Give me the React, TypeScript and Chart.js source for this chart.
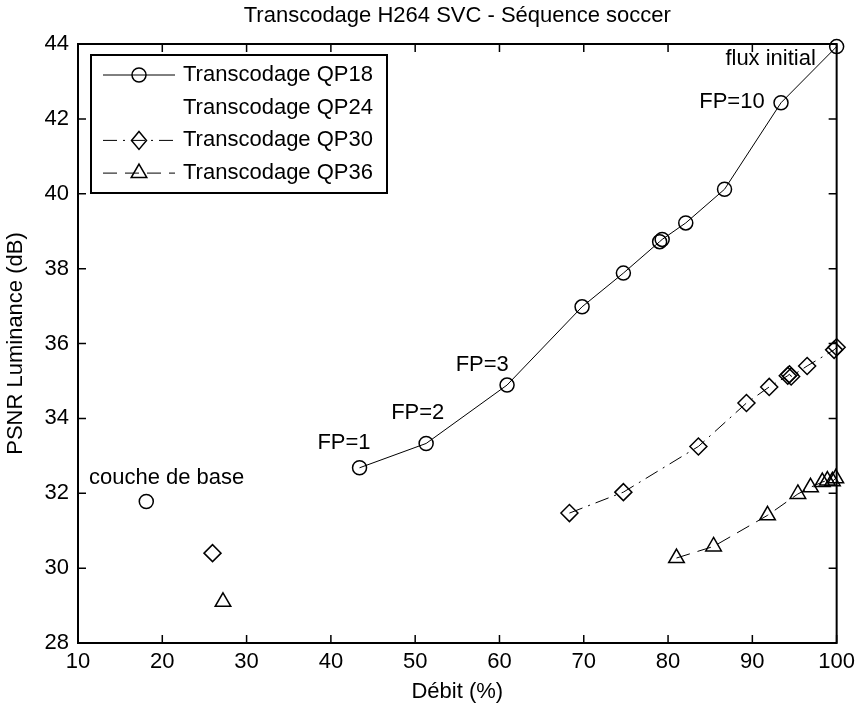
import React, { useEffect, useRef } from 'react';
import { Chart, registerables } from 'chart.js';

Chart.register(...registerables);

const FONT = "'Liberation Sans', Arial, Helvetica, sans-serif";
const FS = 22;

const TITLE = 'Transcodage H264 SVC - Séquence soccer';
const X_LABEL = 'Débit (%)';
const Y_LABEL = 'PSNR Luminance (dB)';
const SERIES_LABELS = ['Transcodage QP18', 'Transcodage QP24', 'Transcodage QP30', 'Transcodage QP36'];

// X axis 10..100 step 10, Y axis 28..44 step 2
const X_MIN = 10, X_MAX = 100, X_STEP = 10;
const Y_MIN = 28, Y_MAX = 44, Y_STEP = 2;

// QP18 transcoding curve (FP=1 ... flux initial)
const qp18Rate = [43.4, 51.3, 60.9, 69.8, 74.7, 79.0, 79.3, 82.1, 86.7, 93.4, 100];
const qp18Psnr = [32.68, 33.33, 34.89, 36.98, 37.88, 38.72, 38.78, 39.22, 40.12, 42.43, 43.93];
const qp18BaseRate = [18.1];
const qp18BasePsnr = [31.78];

// QP24 : no points drawn
const qp24Rate: number[] = [];
const qp24Psnr: number[] = [];

// QP30
const qp30Rate = [68.3, 74.7, 83.6, 89.3, 92.0, 94.2, 94.4, 94.6, 96.5, 99.7, 100];
const qp30Psnr = [31.47, 32.03, 33.25, 34.41, 34.84, 35.14, 35.18, 35.12, 35.4, 35.83, 35.9];
const qp30BaseRate = [25.96];
const qp30BasePsnr = [30.4];

// QP36
const qp36Rate = [81.0, 85.4, 91.8, 95.4, 96.9, 98.3, 98.9, 99.5, 99.9];
const qp36Psnr = [30.27, 30.58, 31.41, 31.98, 32.16, 32.3, 32.34, 32.32, 32.4];
const qp36BaseRate = [27.2];
const qp36BasePsnr = [29.1];

// Text annotations (data coordinates, left aligned, vertically centred)
const annotationTexts = ['couche de base', 'FP=1', 'FP=2', 'FP=3', 'FP=10', 'flux initial'];
const annotationX = [11.3, 38.4, 47.15, 54.8, 83.7, 86.8];
const annotationY = [32.41, 33.34, 34.14, 35.43, 42.45, 43.6];

const zip = (xs: number[], ys: number[]) => xs.map((x, i) => ({ x, y: ys[i] }));

const DASH_QP30 = [14, 6, 2, 6];
const DASH_QP36 = [14, 8];
const MARKER_LW = 1.5;

function drawMarker(ctx: CanvasRenderingContext2D, kind: string, x: number, y: number) {
  ctx.save();
  ctx.setLineDash([]);
  ctx.strokeStyle = '#000';
  ctx.lineWidth = MARKER_LW;
  ctx.beginPath();
  if (kind === 'circle') {
    ctx.arc(x, y, 7, 0, Math.PI * 2);
  } else if (kind === 'triangle') {
    const r = 9;
    ctx.moveTo(x, y - r);
    ctx.lineTo(x + r * Math.sin((2 * Math.PI) / 3), y - r * Math.cos((2 * Math.PI) / 3));
    ctx.lineTo(x + r * Math.sin((4 * Math.PI) / 3), y - r * Math.cos((4 * Math.PI) / 3));
    ctx.closePath();
  } else if (kind === 'diamond') {
    ctx.moveTo(x, y - 9);
    ctx.lineTo(x + 7.5, y);
    ctx.lineTo(x, y + 9);
    ctx.lineTo(x - 7.5, y);
    ctx.closePath();
  }
  ctx.stroke();
  ctx.restore();
}

export default function App() {
  const ref = useRef<HTMLCanvasElement | null>(null);

  useEffect(() => {
    document.body.style.margin = '0';
    const canvas = ref.current!;

    const boxPlugin = {
      id: 'matlabBox',
      afterDraw(chart: any) {
        const { ctx, chartArea: a, scales } = chart;
        ctx.save();
        ctx.strokeStyle = '#000';
        ctx.lineWidth = 2;
        ctx.setLineDash([]);
        ctx.strokeRect(a.left, a.top, a.right - a.left, a.bottom - a.top);
        const tl = 8;
        ctx.lineWidth = 1.5;
        ctx.beginPath();
        scales.x.ticks.forEach((t: any) => {
          const px = scales.x.getPixelForValue(t.value);
          ctx.moveTo(px, a.bottom);
          ctx.lineTo(px, a.bottom - tl);
          ctx.moveTo(px, a.top);
          ctx.lineTo(px, a.top + tl);
        });
        scales.y.ticks.forEach((t: any) => {
          const py = scales.y.getPixelForValue(t.value);
          ctx.moveTo(a.left, py);
          ctx.lineTo(a.left + tl, py);
          ctx.moveTo(a.right, py);
          ctx.lineTo(a.right - tl, py);
        });
        ctx.stroke();

        // annotations
        ctx.fillStyle = '#000';
        ctx.font = `${FS}px ${FONT}`;
        ctx.textAlign = 'left';
        ctx.textBaseline = 'middle';
        annotationTexts.forEach((txt, i) => {
          ctx.fillText(txt, scales.x.getPixelForValue(annotationX[i]), scales.y.getPixelForValue(annotationY[i]));
        });

        // legend
        const bx = 91, by = 55, bw = 296, bh = 138;
        ctx.fillStyle = '#fff';
        ctx.fillRect(bx, by, bw, bh);
        ctx.strokeStyle = '#000';
        ctx.lineWidth = 2;
        ctx.strokeRect(bx, by, bw, bh);
        const entries = [
          { marker: 'circle', dash: [] as number[], line: true },
          { marker: 'none', dash: [] as number[], line: false },
          { marker: 'diamond', dash: DASH_QP30, line: true },
          { marker: 'triangle', dash: DASH_QP36, line: true },
        ];
        entries.forEach((e, i) => {
          const cy = 75 + i * 32.7;
          if (e.line) {
            ctx.save();
            ctx.lineWidth = 1;
            ctx.setLineDash(e.dash);
            ctx.beginPath();
            ctx.moveTo(103, cy);
            ctx.lineTo(175, cy);
            ctx.stroke();
            ctx.restore();
          }
          if (e.marker !== 'none') drawMarker(ctx, e.marker, 139, cy);
          ctx.fillStyle = '#000';
          ctx.font = `${FS}px ${FONT}`;
          ctx.textAlign = 'left';
          ctx.textBaseline = 'middle';
          ctx.fillText(SERIES_LABELS[i], 183, cy);
        });
        ctx.restore();
      },
    };

    const common = {
      borderColor: '#000',
      backgroundColor: 'transparent',
      pointBackgroundColor: 'transparent',
      pointBorderColor: '#000',
      pointBorderWidth: MARKER_LW,
      clip: false as const,
    };

    const chart = new Chart(canvas, {
      type: 'scatter',
      data: {
        datasets: [
          { ...common, label: SERIES_LABELS[0], data: zip(qp18Rate, qp18Psnr), showLine: true, borderWidth: 1, pointStyle: 'circle', pointRadius: 7 },
          { ...common, label: 'base18', data: zip(qp18BaseRate, qp18BasePsnr), showLine: false, pointStyle: 'circle', pointRadius: 7 },
          { ...common, label: SERIES_LABELS[1], data: zip(qp24Rate, qp24Psnr), showLine: false, pointRadius: 0 },
          { ...common, label: SERIES_LABELS[2], data: zip(qp30Rate, qp30Psnr), showLine: true, borderWidth: 1, borderDash: DASH_QP30, pointStyle: 'rectRot', pointRadius: 8.5 },
          { ...common, label: 'base30', data: zip(qp30BaseRate, qp30BasePsnr), showLine: false, pointStyle: 'rectRot', pointRadius: 8.5 },
          { ...common, label: SERIES_LABELS[3], data: zip(qp36Rate, qp36Psnr), showLine: true, borderWidth: 1, borderDash: DASH_QP36, pointStyle: 'triangle', pointRadius: 9 },
          { ...common, label: 'base36', data: zip(qp36BaseRate, qp36BasePsnr), showLine: false, pointStyle: 'triangle', pointRadius: 9 },
        ] as any,
      },
      options: {
        responsive: false,
        animation: false,
        events: [],
        layout: { padding: { left: 0, right: 20, top: 0, bottom: 0 } },
        plugins: {
          legend: { display: false },
          tooltip: { enabled: false },
          title: {
            display: true,
            text: TITLE,
            fullSize: false,
            color: '#000',
            font: { family: FONT, size: FS, weight: 'normal' },
            padding: { top: 3, bottom: 14.6 },
          },
        },
        scales: {
          x: {
            type: 'linear',
            min: X_MIN,
            max: X_MAX,
            ticks: { stepSize: X_STEP, color: '#000', font: { family: FONT, size: FS }, padding: 6, maxRotation: 0 },
            grid: { display: false, drawTicks: false },
            border: { display: false },
            title: { display: true, text: X_LABEL, color: '#000', font: { family: FONT, size: FS }, padding: { top: 0, bottom: 0 } },
            afterFit: (s: any) => { s.height = 62; },
          },
          y: {
            type: 'linear',
            min: Y_MIN,
            max: Y_MAX,
            ticks: { stepSize: Y_STEP, color: '#000', font: { family: FONT, size: FS }, padding: 9 },
            grid: { display: false, drawTicks: false },
            border: { display: false },
            title: { display: true, text: Y_LABEL, color: '#000', font: { family: FONT, size: FS }, padding: { top: 3, bottom: 0 } },
            afterFit: (s: any) => { s.width = 78; },
          },
        },
      } as any,
      plugins: [boxPlugin],
    });
    return () => chart.destroy();
  }, []);

  return (
    <div style={{ width: 861, height: 705, background: '#fff' }}>
      <canvas ref={ref} width={861} height={705} style={{ display: 'block' }} />
    </div>
  );
}
